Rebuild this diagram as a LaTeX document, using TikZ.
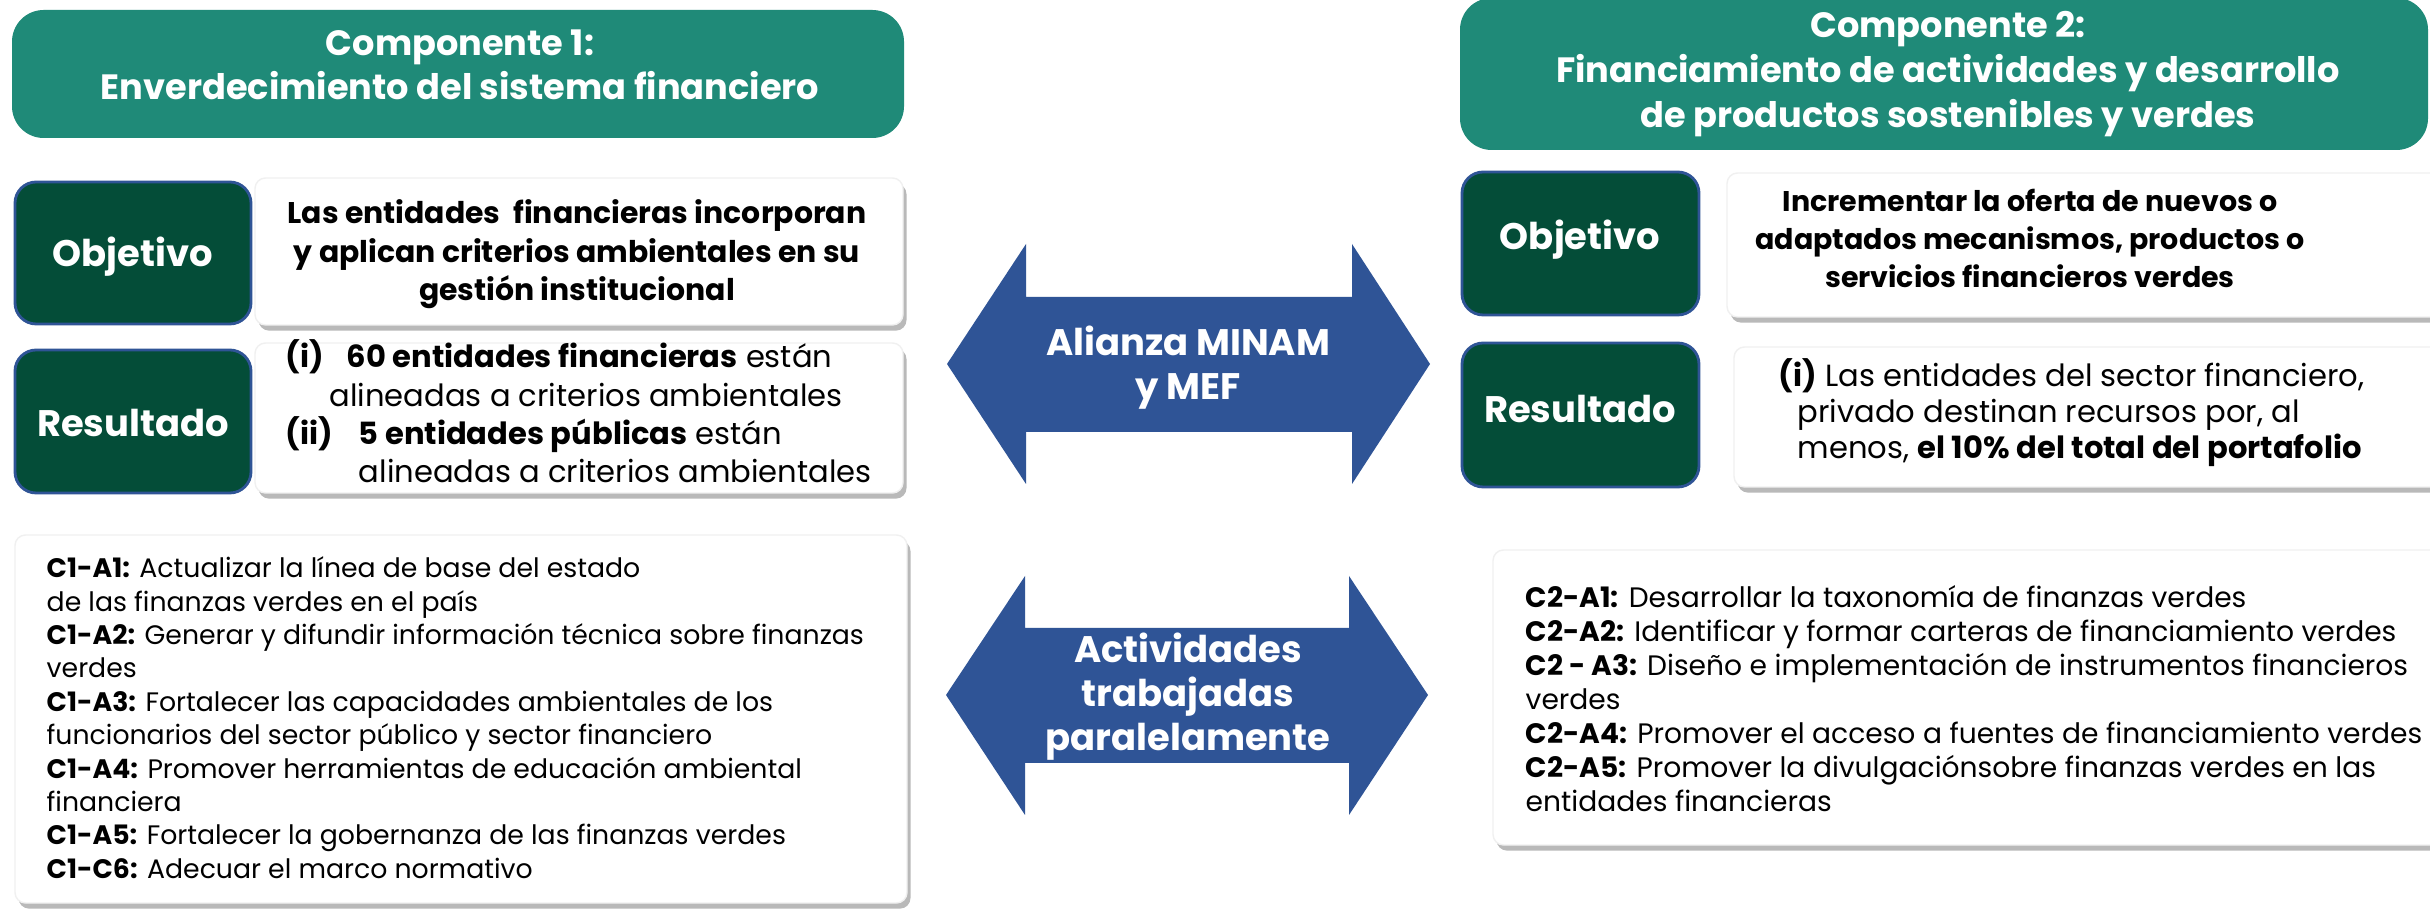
\documentclass[tikz,border=0pt]{standalone}
\usepackage{fontspec}
\setmainfont{Poppins}
\usetikzlibrary{shadows}
\definecolor{tealhdr}{HTML}{1F8A78}
\definecolor{dkgreen}{HTML}{044D38}
\definecolor{arrblue}{HTML}{2F5496}
\newcommand\lnstrut{\rule{0pt}{12pt}}
\begin{document}
\begin{tikzpicture}[x=0.01cm,y=-0.01cm,
  hdrbox/.style={fill=tealhdr, rounded corners=9pt},
  dbox/.style={fill=dkgreen, draw=arrblue, line width=0.8pt, rounded corners=6pt},
  wbox/.style={fill=white, draw=black!6, rounded corners=3pt,
     drop shadow={shadow xshift=1pt, shadow yshift=-1.6pt, fill=black!50, opacity=0.55}},
  arrowshape/.style={fill=arrblue},
  ctext/.style={inner sep=0pt, anchor=north, yshift=12pt, align=center},
  ltext/.style={inner sep=0pt, anchor=north west, yshift=12pt, align=left},
  hdrfont/.style={text=white, font=\bfseries\fontsize{10}{12.5}\selectfont},
  lblfont/.style={text=white, font=\bfseries\fontsize{10.5}{12.5}\selectfont, inner sep=0pt, anchor=base},
  objfont/.style={font=\bfseries\fontsize{8.5}{10.9}\selectfont},
  resfont/.style={font=\fontsize{8.7}{10.9}\selectfont},
  actfont/.style={font=\fontsize{7.6}{9.5}\selectfont},
  arrfont/.style={text=white, font=\bfseries\fontsize{10.5}{12.5}\selectfont}
]
\useasboundingbox (0,0) rectangle (2430,910);
\fill[white] (0,0) rectangle (2430,910);

% ---- headers
\fill[hdrbox] (12,10) rectangle (904,138);
\node[ctext, hdrfont] (c1title) at (460,55) {\lnstrut Componente 1:\\Enverdecimiento del sistema financiero};
\fill[hdrbox] (1460,-2) rectangle (2428,150);
\node[ctext, hdrfont, font=\bfseries\fontsize{10}{12.8}\selectfont] (c2title) at (1948,37) {\lnstrut Componente 2:\\Financiamiento de actividades y desarrollo\\de productos sostenibles y verdes};

% ---- component 1 objetivo / resultado
\draw[dbox] (15,182) rectangle (251,324);
\node[lblfont] (c1objlbl) at (133,267) {Objetivo};
\draw[wbox] (255,178) rectangle (903,325);
\node[ctext, objfont] (c1obj) at (577,223) {\lnstrut Las entidades\ \ financieras incorporan\\y aplican criterios ambientales en su\\gestión institucional};

\draw[dbox] (15,350) rectangle (251,493);
\node[lblfont] (c1reslbl) at (133,437) {Resultado};
\draw[wbox] (255,343) rectangle (903,493);
\node[ltext, resfont] (c1res) at (285,367) {\lnstrut\makebox[17.4pt][l]{\bfseries(i)}\textbf{60 entidades financieras} están\\
\hspace*{12.5pt}alineadas a criterios ambientales\\
\makebox[20.8pt][l]{\bfseries(ii)}\textbf{5 entidades públicas} están\\
\hspace*{20.8pt}alineadas a criterios ambientales};

% ---- component 2 objetivo / resultado
\draw[dbox] (1462,172) rectangle (1699,315);
\node[lblfont] (c2objlbl) at (1580,250) {Objetivo};
\draw[wbox] (1727,173) rectangle (2445,317);
\node[ctext, objfont, font=\bfseries\fontsize{8.1}{10.8}\selectfont] (c2obj) at (2030,211) {\lnstrut Incrementar la oferta de nuevos o\\adaptados mecanismos, productos o\\servicios financieros verdes};

\draw[dbox] (1462,343) rectangle (1699,487);
\node[lblfont] (c2reslbl) at (1580,423) {Resultado};
\draw[wbox] (1734,347) rectangle (2445,487);
\node[ltext, resfont, font=\fontsize{8.7}{10.25}\selectfont] (c2res) at (1778,386) {\lnstrut\textbf{(i)} Las entidades del sector financiero,\\
\hspace*{5.4pt}privado destinan recursos por, al\\
\hspace*{5.4pt}menos, \textbf{el 10\% del total del portafolio}};

% ---- activities
\draw[wbox] (15,535) rectangle (907,903);
\node[ltext, actfont] (c1act) at (46,577) {\lnstrut\textbf{C1-A1:} Actualizar la línea de base del estado\\
de las finanzas verdes en el país\\
\textbf{C1-A2:} Generar y difundir información técnica sobre finanzas\\
verdes\\
\textbf{C1-A3:} Fortalecer las capacidades ambientales de los\\
funcionarios del sector público y sector financiero\\
\textbf{C1-A4:} Promover herramientas de educación ambiental\\
financiera\\
\textbf{C1-A5:} Fortalecer la gobernanza de las finanzas verdes\\
\textbf{C1-C6:} Adecuar el marco normativo};

\draw[wbox] (1493,550) rectangle (2445,845);
\node[ltext, actfont, font=\fontsize{8}{9.67}\selectfont] (c2act) at (1525,607) {\lnstrut\textbf{C2-A1:} Desarrollar la taxonomía de finanzas verdes\\
\textbf{C2-A2:} Identificar y formar carteras de financiamiento verdes\\
\textbf{C2 - A3:} Diseño e implementación de instrumentos financieros\\
verdes\\
\textbf{C2-A4:} Promover el acceso a fuentes de financiamiento verdes\\
\textbf{C2-A5:} Promover la divulgaciónsobre finanzas verdes en las\\
entidades financieras};

% ---- double arrows
\fill[arrowshape] (947,364) -- (1026,244) -- (1026,297) -- (1352,297) -- (1352,244) -- (1430,364)
  -- (1352,484) -- (1352,432) -- (1026,432) -- (1026,484) -- cycle;
\node[ctext, arrfont] (alianza) at (1188,355) {\lnstrut Alianza MINAM\\y MEF};

\fill[arrowshape] (946,695) -- (1025,576) -- (1025,628) -- (1349,628) -- (1349,576) -- (1428,695)
  -- (1349,815) -- (1349,763) -- (1025,763) -- (1025,815) -- cycle;
\node[ctext, arrfont] (paralelo) at (1188,662) {\lnstrut Actividades\\trabajadas\\paralelamente};
\end{tikzpicture}
\end{document}
